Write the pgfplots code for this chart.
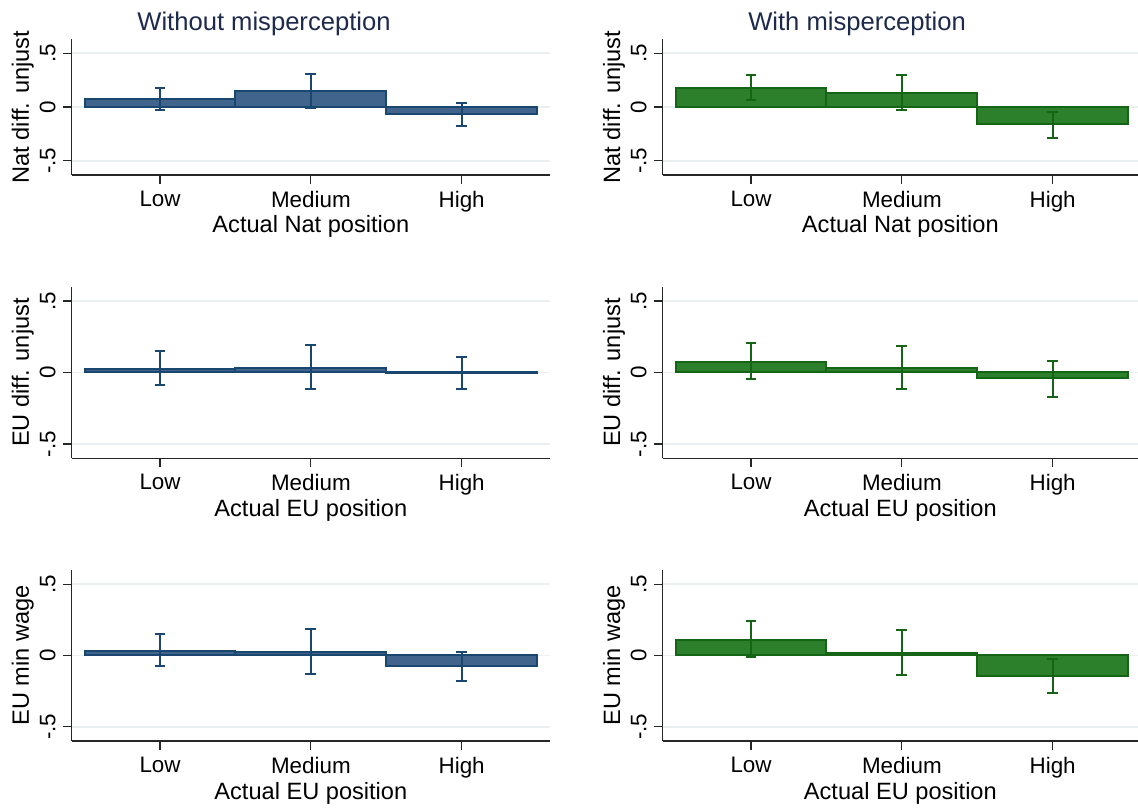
\documentclass[border=0pt]{standalone}
\usepackage{fontspec}
\setmainfont{Liberation Sans}
\usepackage{pgfplots}
\usepackage{pgfplotstable}
\pgfplotsset{compat=1.18}
\definecolor{navyfill}{RGB}{64,100,140}
\definecolor{navyline}{RGB}{26,71,111}
\definecolor{greenfill}{RGB}{44,128,44}
\definecolor{greenline}{RGB}{22,100,22}
\definecolor{gridc}{RGB}{234,240,242}
\definecolor{titlec}{RGB}{30,42,75}

% x est lo hi
\pgfplotstableread{
x est lo hi
1 0.071 -0.025 0.180
2 0.146 -0.006 0.304
3 -0.068 -0.174 0.037
}\tabA
\pgfplotstableread{
x est lo hi
1 0.172 0.062 0.302
2 0.127 -0.025 0.295
3 -0.161 -0.289 -0.043
}\tabB
\pgfplotstableread{
x est lo hi
1 0.024 -0.084 0.147
2 0.032 -0.114 0.193
3 -0.004 -0.116 0.105
}\tabC
\pgfplotstableread{
x est lo hi
1 0.072 -0.049 0.207
2 0.030 -0.116 0.186
3 -0.042 -0.172 0.079
}\tabD
\pgfplotstableread{
x est lo hi
1 0.030 -0.077 0.152
2 0.022 -0.128 0.185
3 -0.075 -0.178 0.028
}\tabE
\pgfplotstableread{
x est lo hi
1 0.112 -0.014 0.243
2 0.015 -0.140 0.180
3 -0.143 -0.264 -0.026
}\tabF

\pgfplotsset{
  panel/.style={
    scale only axis,
    anchor=south west,
    axis x line*=bottom, axis y line*=left,
    axis line style={black!85, line width=0.6pt},
    tick align=outside,
    major tick length=4.5pt,
    every tick/.style={black!85, line width=0.6pt},
    xmin=0.414,
    xtick={1,2,3}, xticklabels={Low,Medium,High},
    ytick={-0.5,0,0.5}, yticklabels={-.5,0,.5},
    ymajorgrids, grid style={gridc, line width=0.9pt},
    yticklabel style={rotate=90, anchor=south},
    tick label style={font=\fontsize{11.2}{13}\selectfont},
    label style={font=\fontsize{11.8}{14}\selectfont},
    xlabel style={at={(axis description cs:0.5,0)}, anchor=base, yshift=-29pt},
    title style={font=\fontsize{12.8}{15}\selectfont, text=titlec, anchor=base, yshift=-1.7pt},
  },
  leftcol/.style={panel, width=239.15pt, xmax=3.586,
    ylabel style={at={(axis description cs:-0.0893,0.5)}, anchor=base}},
  rightcol/.style={panel, width=237.65pt, xmax=3.566,
    ylabel style={at={(axis description cs:-0.0898,0.5)}, anchor=base}},
  row1/.style={height=67.85pt, ymin=-0.633, ymax=0.63},
  row2/.style={height=85.8pt, ymin=-0.6, ymax=0.6},
  row3/.style={height=85.5pt, ymin=-0.6, ymax=0.6},
  navybars/.style={ybar, bar width=1, fill=navyfill, draw=navyline, line width=1pt},
  greenbars/.style={ybar, bar width=1, fill=greenfill, draw=greenline, line width=1pt},
  navyerr/.style={draw=none, mark=none, forget plot,
    error bars/.cd, y dir=both, y explicit,
    error bar style={draw=navyline, line width=1pt},
    error mark options={rotate=90, mark size=2.7pt, line width=1pt, draw=navyline}},
  greenerr/.style={draw=none, mark=none, forget plot,
    error bars/.cd, y dir=both, y explicit,
    error bar style={draw=greenline, line width=1pt},
    error mark options={rotate=90, mark size=2.7pt, line width=1pt, draw=greenline}},
}

\begin{document}
\begin{tikzpicture}
\useasboundingbox (0,0) rectangle (569pt,403.5pt);

% Row 1 left
\begin{axis}[leftcol, row1, at={(35.85pt,316pt)},
  title={Without misperception}, title style={at={(axis description cs:0.402,1)}},
  xlabel={Actual Nat position}, ylabel={Nat diff. unjust}]
\addplot[navybars] table[x=x,y=est]{\tabA};
\addplot[navyerr] table[x=x,y=est,
  y error plus expr=\thisrow{hi}-\thisrow{est},
  y error minus expr=\thisrow{est}-\thisrow{lo}]{\tabA};
\end{axis}

% Row 1 right
\begin{axis}[rightcol, row1, at={(331.35pt,316pt)},
  title={With misperception}, title style={at={(axis description cs:0.409,1)}},
  xlabel={Actual Nat position}, ylabel={Nat diff. unjust}]
\addplot[greenbars] table[x=x,y=est]{\tabB};
\addplot[greenerr] table[x=x,y=est,
  y error plus expr=\thisrow{hi}-\thisrow{est},
  y error minus expr=\thisrow{est}-\thisrow{lo}]{\tabB};
\end{axis}

% Row 2 left
\begin{axis}[leftcol, row2, at={(35.85pt,174.35pt)},
  xlabel={Actual EU position}, ylabel={EU diff. unjust}]
\addplot[navybars] table[x=x,y=est]{\tabC};
\addplot[navyerr] table[x=x,y=est,
  y error plus expr=\thisrow{hi}-\thisrow{est},
  y error minus expr=\thisrow{est}-\thisrow{lo}]{\tabC};
\end{axis}

% Row 2 right
\begin{axis}[rightcol, row2, at={(331.35pt,174.35pt)},
  xlabel={Actual EU position}, ylabel={EU diff. unjust}]
\addplot[greenbars] table[x=x,y=est]{\tabD};
\addplot[greenerr] table[x=x,y=est,
  y error plus expr=\thisrow{hi}-\thisrow{est},
  y error minus expr=\thisrow{est}-\thisrow{lo}]{\tabD};
\end{axis}

% Row 3 left
\begin{axis}[leftcol, row3, at={(35.85pt,33pt)},
  xlabel={Actual EU position}, ylabel={EU min wage}]
\addplot[navybars] table[x=x,y=est]{\tabE};
\addplot[navyerr] table[x=x,y=est,
  y error plus expr=\thisrow{hi}-\thisrow{est},
  y error minus expr=\thisrow{est}-\thisrow{lo}]{\tabE};
\end{axis}

% Row 3 right
\begin{axis}[rightcol, row3, at={(331.35pt,33pt)},
  xlabel={Actual EU position}, ylabel={EU min wage}]
\addplot[greenbars] table[x=x,y=est]{\tabF};
\addplot[greenerr] table[x=x,y=est,
  y error plus expr=\thisrow{hi}-\thisrow{est},
  y error minus expr=\thisrow{est}-\thisrow{lo}]{\tabF};
\end{axis}
\end{tikzpicture}
\end{document}
